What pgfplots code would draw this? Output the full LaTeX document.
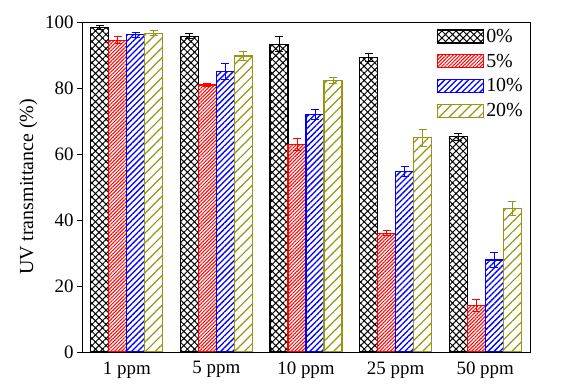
\documentclass[border=0pt]{standalone}
\usepackage{pgfplots}
\pgfplotsset{compat=1.18}
\usetikzlibrary{patterns.meta}
\usepackage{fontspec}
\setmainfont{Liberation Serif}
\definecolor{myolive}{RGB}{150,150,20}
\begin{document}
\begin{tikzpicture}
\useasboundingbox (0,0) rectangle (566bp,388bp);
\begin{axis}[
  at={(82bp,36bp)}, anchor=south west,
  scale only axis, width=448bp, height=330bp,
  ybar=0pt, bar width=18bp,
  xmin=-0.5, xmax=4.5, ymin=0, ymax=100,
  xtick={0,1,2,3,4},
  xticklabels={1 ppm,5 ppm,10 ppm,25 ppm,50 ppm},
  x tick style={draw=none},
  ytick={0,20,40,60,80,100},
  ytick pos=left, tick align=outside, major tick length=5bp,
  y tick style={line width=0.8bp, black},
  axis line style={line width=0.8bp},
  tick label style={font=\fontsize{19}{21}\selectfont},
  xticklabel style={yshift=-1bp},
  label style={font=\fontsize{20}{22}\selectfont},
  /pgf/number format/assume math mode=true,
  ylabel={UV transmittance (\%)},
  ylabel style={at={(axis description cs:-0.12,0.5)}, anchor=center},
  legend style={at={(rel axis cs:1,1)}, anchor=north east, xshift=-4bp, yshift=-4bp,
    draw=none, fill=none,
    row sep=6bp, inner sep=1bp, font=\fontsize{20}{22}\selectfont},
  legend cell align=left,
  legend image code/.code={\draw[#1] (0bp,-6.5bp) rectangle (46bp,6.5bp);},
  error bars/y dir=both, error bars/y explicit,
]
\addplot[draw=black, line width=1.2bp, pattern={Hatch[angle=45,distance=5bp,line width=1bp]}, pattern color=black,
  error bars/error bar style={line width=1bp, black},
  error bars/error mark options={rotate=90, mark size=4bp, line width=1bp, black}]
  table[x=x, y=y, y error=e] {
x y e
0 98.3 0.5
1 95.7 0.8
2 93.3 2.2
3 89.2 1.3
4 65.2 1.0
};
\addplot[draw=red, line width=1.2bp, pattern={Lines[angle=45,distance=2.5bp,line width=1bp]}, pattern color=red,
  error bars/error bar style={line width=1bp, red},
  error bars/error mark options={rotate=90, mark size=4bp, line width=1bp, red}]
  table[x=x, y=y, y error=e] {
x y e
0 94.5 1.0
1 80.9 0.5
2 62.9 1.8
3 36.0 0.8
4 14.2 1.8
};
\addplot[draw=blue, line width=1.2bp, pattern={Lines[angle=45,distance=4.2bp,line width=1.3bp]}, pattern color=blue,
  error bars/error bar style={line width=1bp, blue},
  error bars/error mark options={rotate=90, mark size=4bp, line width=1bp, blue}]
  table[x=x, y=y, y error=e] {
x y e
0 96.1 0.8
1 85.0 2.4
2 72.0 1.5
3 54.7 1.6
4 27.9 2.3
};
\addplot[draw=myolive, line width=1.2bp, pattern={Lines[angle=45,distance=7bp,line width=1.2bp]}, pattern color=myolive,
  error bars/error bar style={line width=1bp, myolive},
  error bars/error mark options={rotate=90, mark size=4bp, line width=1bp, myolive}]
  table[x=x, y=y, y error=e] {
x y e
0 96.6 0.8
1 89.7 1.5
2 82.3 0.8
3 64.9 2.5
4 43.5 2.2
};
\legend{0\%,5\%,10\%,20\%}
\end{axis}
\end{tikzpicture}
\end{document}
